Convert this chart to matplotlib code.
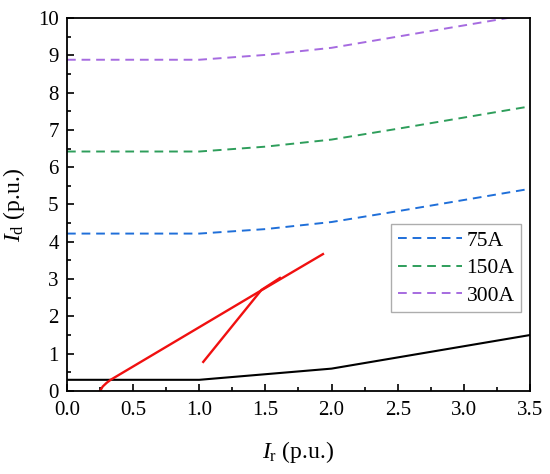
import matplotlib
matplotlib.use('Agg')
import matplotlib.pyplot as plt
from matplotlib.ticker import MultipleLocator

# ── Data ──────────────────────────────────────────────────────────────────────
ir_curve = [0.0, 0.5, 1.0, 1.5, 2.0, 2.5, 3.0, 3.5]
id_75a = [4.22, 4.22, 4.22, 4.34, 4.53, 4.82, 5.12, 5.42]
id_150a = [6.42, 6.42, 6.42, 6.55, 6.74, 7.03, 7.33, 7.63]
id_300a = [8.88, 8.88, 8.88, 9.01, 9.20, 9.50, 9.80, 10.10]

ir_black = [0.0, 1.0, 2.0, 2.5, 3.0, 3.5]
id_black = [0.30, 0.30, 0.60, 0.90, 1.20, 1.50]

ir_red1 = [0.25, 0.27, 0.30, 0.33, 1.47, 1.935]
id_red1 = [0.00, 0.12, 0.22, 0.30, 2.70, 3.67]
ir_red2 = [1.03, 1.47, 1.61]
id_red2 = [0.78, 2.71, 3.03]

labels = ['75A', '150A', '300A']
colors = ['#1F6FD9', '#2E9E5B', '#A66BE0']

plt.rcParams['font.family'] = ['Liberation Serif', 'DejaVu Serif']
plt.rcParams['mathtext.fontset'] = 'custom'
plt.rcParams['mathtext.rm'] = 'Liberation Serif'
plt.rcParams['mathtext.it'] = 'Liberation Serif:italic'

fig = plt.figure(figsize=(5.5, 4.74), dpi=100)
ax = fig.add_axes([0.1218, 0.1751, 0.8418, 0.787])

for ys, lab, c in zip([id_75a, id_150a, id_300a], labels, colors):
    ax.plot(ir_curve, ys, color=c, lw=1.4, dashes=(4.5, 3), label=lab)

ax.plot(ir_black, id_black, color='black', lw=1.5)
ax.plot(ir_red1, id_red1, color='#F01010', lw=1.7)
ax.plot(ir_red2, id_red2, color='#F01010', lw=1.7)

ax.set_xlim(0, 3.5)
ax.set_ylim(0, 10)
ax.xaxis.set_major_locator(MultipleLocator(0.5))
ax.xaxis.set_minor_locator(MultipleLocator(0.25))
ax.yaxis.set_major_locator(MultipleLocator(1))
ax.yaxis.set_minor_locator(MultipleLocator(0.5))
ax.set_xticklabels([f'{v:.1f}' for v in ax.get_xticks()])
ax.tick_params(which='both', direction='in', labelsize=15, width=1.2)
ax.tick_params(which='major', length=5)
ax.tick_params(which='minor', length=3)
ax.tick_params(axis='x', pad=7)
ax.tick_params(axis='y', pad=6)
for sp in ax.spines.values():
    sp.set_linewidth(1.3)

ax.set_xlabel(r'$\mathit{I}_\mathrm{r}$ (p.u.)', fontsize=17, labelpad=14)
ax.set_ylabel(r'$\mathit{I}_\mathrm{d}$ (p.u.)', fontsize=17, labelpad=8)

leg = ax.legend(loc='upper left', bbox_to_anchor=(0.70, 0.447), fontsize=15.5,
                frameon=True, fancybox=False, edgecolor='#999999',
                handlelength=3.0, handletextpad=0.2, borderpad=0.3,
                labelspacing=0.35, borderaxespad=0)
leg.get_frame().set_linewidth(1.0)

fig.savefig('out.png', dpi=100)
